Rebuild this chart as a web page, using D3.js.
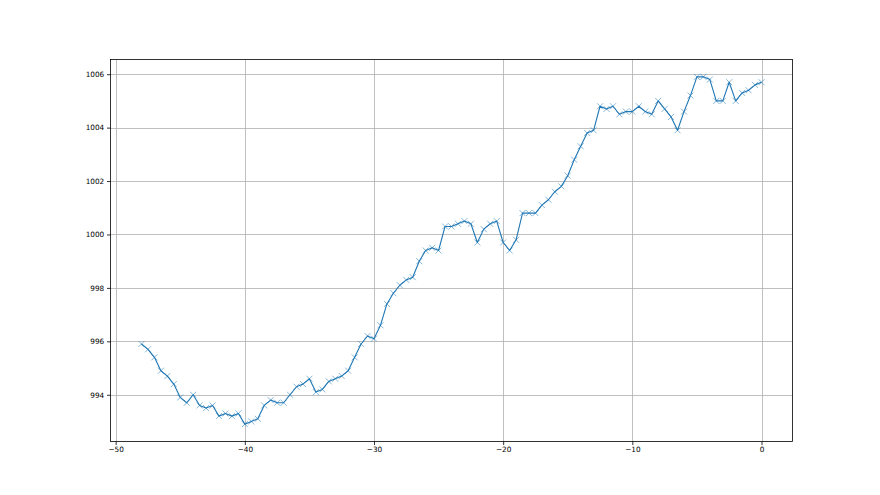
<!DOCTYPE html>
<html><head><meta charset="utf-8">
<script src="https://cdn.jsdelivr.net/npm/d3@7"></script>
<style>body{margin:0;background:#fff}svg{display:block}</style>
</head><body>
<svg id="c" width="880" height="495"></svg>
<script>
const xValues = d3.range(97).map(i => -48 + i * 0.5);
const yValues = [
  995.9, 995.7, 995.4, 994.9, 994.7, 994.4, 993.9, 993.7, 994.0, 993.6,
  993.5, 993.6, 993.2, 993.3, 993.2, 993.3, 992.9, 993.0, 993.1, 993.6,
  993.8, 993.7, 993.7, 994.0, 994.3, 994.4, 994.6, 994.1, 994.2, 994.5,
  994.6, 994.7, 994.9, 995.4, 995.9, 996.2, 996.1, 996.6, 997.4, 997.8,
  998.1, 998.3, 998.4, 999.0, 999.4, 999.5, 999.4, 1000.3, 1000.3, 1000.4,
  1000.5, 1000.4, 999.7, 1000.2, 1000.4, 1000.5, 999.7, 999.4, 999.8, 1000.8,
  1000.8, 1000.8, 1001.1, 1001.3, 1001.6, 1001.8, 1002.2, 1002.8, 1003.3, 1003.8,
  1003.9, 1004.8, 1004.7, 1004.8, 1004.5, 1004.6, 1004.6, 1004.8, 1004.6, 1004.5,
  1005.0, 1004.7, 1004.4, 1003.9, 1004.6, 1005.2, 1005.9, 1005.9, 1005.8, 1005.0,
  1005.0, 1005.7, 1005.0, 1005.3, 1005.4, 1005.6, 1005.7
];
const xTicks = [-50, -40, -30, -20, -10, 0];
const yTicks = [994, 996, 998, 1000, 1002, 1004, 1006];

const data = xValues.map((x, i) => ({x, y: yValues[i]}));
const L = 110.5, R = 792.5, T = 59.5, B = 441.5;
const svg = d3.select('#c');

const xMin = d3.min(xValues), xMax = d3.max(xValues);
const yMin = d3.min(yValues), yMax = d3.max(yValues);
const xPad = (xMax - xMin) * 0.05, yPad = (yMax - yMin) * 0.05;
const x = d3.scaleLinear().domain([xMin - xPad, xMax + xPad]).range([L, R]);
const y = d3.scaleLinear().domain([yMin - yPad, yMax + yPad]).range([B, T]);

const fmt = d => String(d).replace('-', '\u2212');
const font = 'DejaVu Sans';

// grid
svg.append('g').selectAll('line').data(xTicks).join('line')
  .attr('x1', d => Math.round(x(d)) + 0.5).attr('x2', d => Math.round(x(d)) + 0.5)
  .attr('y1', T).attr('y2', B).attr('stroke', '#b0b0b0').attr('stroke-width', 0.8);
svg.append('g').selectAll('line').data(yTicks).join('line')
  .attr('y1', d => Math.round(y(d)) + 0.5).attr('y2', d => Math.round(y(d)) + 0.5)
  .attr('x1', L).attr('x2', R).attr('stroke', '#b0b0b0').attr('stroke-width', 0.8);

// axes
const xAxis = d3.axisBottom(x).tickValues(xTicks).tickFormat(fmt).tickSize(3.5).tickPadding(2).tickSizeOuter(0);
const yAxis = d3.axisLeft(y).tickValues(yTicks).tickFormat(fmt).tickSize(3.5).tickPadding(2.8).tickSizeOuter(0);
const gx = svg.append('g').attr('transform', `translate(0,${B})`).call(xAxis);
const gy = svg.append('g').attr('transform', `translate(${L},0)`).call(yAxis);
[gx, gy].forEach(g => {
  g.select('.domain').remove();
  g.selectAll('.tick line').attr('stroke', '#000').attr('stroke-width', 0.8);
  g.selectAll('.tick text').attr('font-family', font).attr('font-size', 7.3).attr('fill', '#000');
});

// line
svg.append('path').datum(data)
  .attr('d', d3.line().x(d => x(d.x)).y(d => y(d.y)))
  .attr('fill', 'none').attr('stroke', '#1f77b4').attr('stroke-width', 1.1)
  .attr('stroke-linejoin', 'round');

// markers
const m = 3;
svg.append('g').selectAll('path').data(data).join('path')
  .attr('d', d => `M${x(d.x)-m},${y(d.y)-m}L${x(d.x)+m},${y(d.y)+m}M${x(d.x)-m},${y(d.y)+m}L${x(d.x)+m},${y(d.y)-m}`)
  .attr('stroke', '#1f77b4').attr('stroke-width', 0.9).attr('stroke-opacity', 0.6).attr('fill', 'none');

// frame
svg.append('rect').attr('x', L).attr('y', T).attr('width', R - L).attr('height', B - T)
  .attr('fill', 'none').attr('stroke', '#000').attr('stroke-width', 0.8);
</script>
</body></html>
